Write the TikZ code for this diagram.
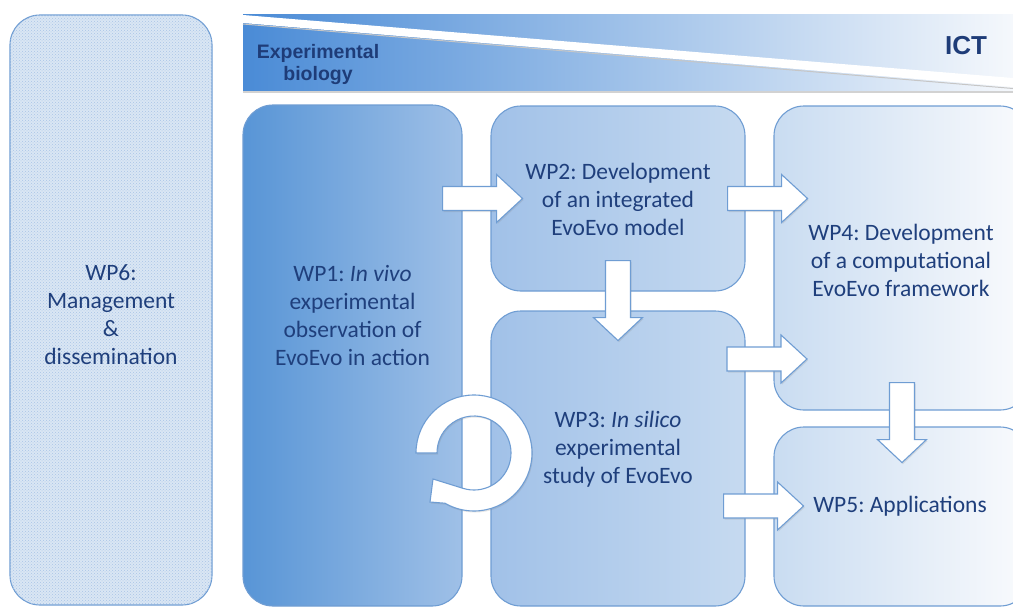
\documentclass[tikz,border=0pt]{standalone}
\usepackage{fontspec}
\setmainfont{Carlito}
\newfontfamily\headfont{Liberation Sans}
\usetikzlibrary{calc,patterns,shadows}
\frenchspacing

\definecolor{edgeblue}{HTML}{6F9DD3}
\definecolor{textblue}{HTML}{1F3F7C}
\definecolor{headblue}{HTML}{1E3C78}
\definecolor{bandL}{HTML}{4A8BD6}
\definecolor{bandR}{HTML}{F5F8FC}
\definecolor{wpA}{HTML}{5895D6}
\definecolor{wpB}{HTML}{9FC0E7}
\definecolor{wpC}{HTML}{A1C1E8}
\definecolor{wpD}{HTML}{C6DAF0}
\definecolor{wpE}{HTML}{C9DCF1}
\definecolor{wpF}{HTML}{FAFBFD}
\definecolor{hatchbg}{HTML}{DAE6F4}
\definecolor{hatchfg}{HTML}{A8C4E6}

\tikzset{
  wpbox/.style={draw=edgeblue, line width=1.1pt, rounded corners=30pt, inner sep=0pt},
  wptext/.style={font=\fontsize{23.5}{28}\selectfont, text=textblue, align=center, inner sep=0pt},
  headtext/.style={font=\headfont\bfseries, text=headblue, align=center, inner sep=0pt},
  blockarr/.style={draw=edgeblue, line width=1.1pt, fill=white, line join=miter,
    drop shadow={shadow xshift=1pt, shadow yshift=-1.5pt, opacity=0.2}},
}

% block arrows, start point = middle of the tail
\newcommand{\rightarr}[1]{\draw[blockarr] (#1) ++(0,-12) -- ++(54,0) -- ++(0,-12) -- ++(26,24) -- ++(-26,24) -- ++(0,-12) -- ++(-54,0) -- cycle;}
\newcommand{\downarr}[1]{\draw[blockarr] (#1) ++(-12.5,0) -- ++(0,57) -- ++(-12,0) -- ++(24.5,23) -- ++(24.5,-23) -- ++(-12,0) -- ++(0,-57) -- cycle;}

\begin{document}
\begin{tikzpicture}[x=1pt,y=-1pt]
	\useasboundingbox (0,0) rectangle (1013,608);

	% banner
	\shade[left color=bandL, right color=bandR] (243,14) rectangle (1013,91);
	\fill[white] (243,15) -- (1013,78) -- (1013,87) -- (243,23) -- cycle;
	\draw[gray!45, line width=1pt] (243,24) -- (1013,88.5);
	\draw[gray!35, line width=1.2pt] (243,92) -- (1013,92);
	\node[headtext, font=\headfont\bfseries\fontsize{19.5}{22}\selectfont] (expbio) at (318,64) {Experimental\\biology};
	\node[headtext, font=\headfont\bfseries\fontsize{26}{30}\selectfont] (ict) at (966,46) {ICT};

	% work packages
	\node[wpbox, minimum width=202pt, minimum height=590pt, fill=hatchbg,
		postaction={pattern=crosshatch dots, pattern color=hatchfg}] (wp6) at (111,310) {};
	\node[wpbox, minimum width=219pt, minimum height=501pt, left color=wpA, right color=wpB] (wp1) at (352.5,355.5) {};
	\node[wpbox, minimum width=254pt, minimum height=185pt, left color=wpC, right color=wpD] (wp2) at (618,198.5) {};
	\node[wpbox, minimum width=254pt, minimum height=295pt, left color=wpC, right color=wpD] (wp3) at (618,458.5) {};
	\node[wpbox, minimum width=256pt, minimum height=304pt, left color=wpE, right color=wpF] (wp4) at (902,258) {};
	\node[wpbox, minimum width=256pt, minimum height=179pt, left color=wpE, right color=wpF] (wp5) at (902,516.5) {};

	% texts
	\node[wptext] (t6) at (111,314.5) {WP6:\\Management\\\&\\dissemination};
	\node[wptext] (t1) at (352.5,315.5) {WP1: \textit{In vivo}\\experimental\\observation of\\EvoEvo in action};
	\node[wptext] (t2) at (618,199) {WP2: Development\\of an integrated\\EvoEvo model};
	\node[wptext] (t3) at (618,449) {WP3: \textit{In silico}\\experimental\\study of EvoEvo};
	\node[wptext] (t4) at (901,260) {WP4: Development\\of a computational\\EvoEvo framework};
	\node[wptext] (t5) at (900,506) {WP5: Applications};

	% arrows
	\coordinate (a12) at ([xshift=-20pt]wp1.east |- wp2.west);
	\coordinate (a24) at ([xshift=-18pt]wp2.east);
	\coordinate (a23) at ([yshift=31pt]wp2.south);
	\coordinate (a34) at (727,359);
	\coordinate (a45) at ([yshift=28pt]wp4.south);
	\coordinate (a35) at ([xshift=-22pt]wp3.east |- t5);
	\rightarr{a12}
	\rightarr{a24}
	\downarr{a23}
	\rightarr{a34}
	\downarr{a45}
	\rightarr{a35}

	% loop arrow
	\coordinate (cyc) at (474,453);
	\draw[blockarr] ($(cyc)+(180:58)$) arc[start angle=180, end angle=480, radius=58]
		-- (430,502) -- (433,479) -- ($(cyc)+(107:37)$)
		arc[start angle=467, end angle=180, radius=37] -- cycle;
\end{tikzpicture}
\end{document}
